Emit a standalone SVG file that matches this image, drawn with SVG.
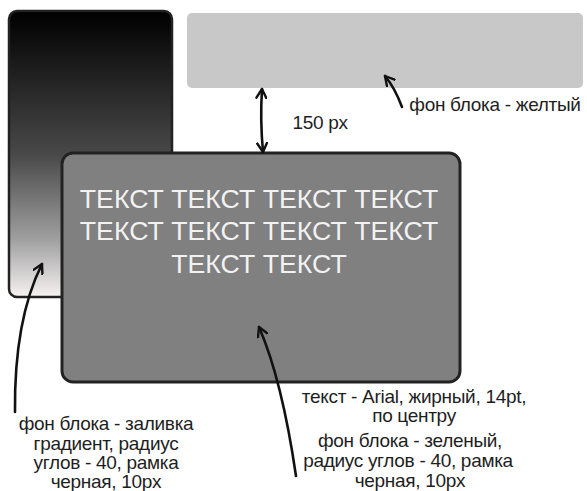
<svg xmlns="http://www.w3.org/2000/svg" width="587" height="491" viewBox="0 0 587 491">
<defs>
<linearGradient id="g" x1="0" y1="0" x2="0" y2="1">
<stop offset="0" stop-color="#000"/>
<stop offset="0.5" stop-color="#484848"/>
<stop offset="0.8" stop-color="#a0a0a0"/>
<stop offset="1" stop-color="#f7f2f2"/>
</linearGradient>
<marker id="ah" viewBox="0 0 12 12" refX="10" refY="6" markerWidth="12" markerHeight="12" markerUnits="userSpaceOnUse" orient="auto-start-reverse">
<path d="M1,1 L10,6 L1,11" fill="none" stroke="#111" stroke-width="2.4" stroke-linecap="round" stroke-linejoin="round"/>
</marker>
<style>
.lbl{font-family:"Liberation Sans",Arial,sans-serif;font-size:19px;fill:#1e1e1e;text-anchor:middle;letter-spacing:-0.3px}
.big{font-family:"Liberation Sans",Arial,sans-serif;font-size:26.7px;fill:#f2f2f2;text-anchor:middle}
.con{fill:none;stroke:#111;stroke-width:2.6;stroke-linecap:round}
</style>
</defs>
<rect width="587" height="491" fill="#fff"/>
<g id="gradient-block">
<rect x="9" y="11" width="163" height="286" rx="8" fill="url(#g)" stroke="#222" stroke-width="2.5"/>
</g>
<g id="top-block">
<rect x="187" y="13" width="396" height="75" rx="5" fill="#c8c8c8"/>
</g>
<g id="main-block">
<rect x="62" y="153" width="398" height="229" rx="11" fill="#808080" stroke="#222" stroke-width="3"/>
<text class="big" x="259" y="208">ТЕКСТ ТЕКСТ ТЕКСТ ТЕКСТ</text>
<text class="big" x="259" y="240">ТЕКСТ ТЕКСТ ТЕКСТ ТЕКСТ</text>
<text class="big" x="259" y="273">ТЕКСТ ТЕКСТ</text>
</g>
<g id="connectors">
<path class="con" d="M263,152 Q260,120 262,89" marker-start="url(#ah)" marker-end="url(#ah)"/>
<path class="con" d="M402,107 Q395,88 385,76" marker-end="url(#ah)"/>
<path class="con" d="M15,412 Q14,320 42,264" marker-end="url(#ah)"/>
<path class="con" d="M296,476 Q282,380 259,327" marker-end="url(#ah)"/>
</g>
<g id="labels">
<text class="lbl" x="320" y="129">150 px</text>
<text class="lbl" x="495" y="111">фон блока - желтый</text>
<text class="lbl" x="106" y="430">фон блока - заливка</text>
<text class="lbl" x="106" y="450">градиент, радиус</text>
<text class="lbl" x="106" y="469">углов - 40, рамка</text>
<text class="lbl" x="106" y="488">черная, 10px</text>
<text class="lbl" x="414" y="403">текст - Arial, жирный, 14pt,</text>
<text class="lbl" x="414" y="422">по центру</text>
<text class="lbl" x="410" y="447">фон блока - зеленый,</text>
<text class="lbl" x="408" y="467">радиус углов - 40, рамка</text>
<text class="lbl" x="410" y="487">черная, 10px</text>
</g>
</svg>
